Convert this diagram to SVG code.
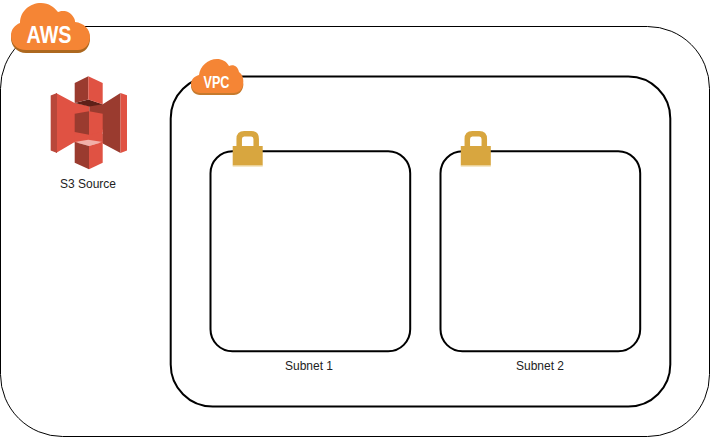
<svg xmlns="http://www.w3.org/2000/svg" width="711" height="437" viewBox="0 0 711 437">
<defs>
<style>
.lbl{font-family:"Liberation Sans",Arial,sans-serif;font-size:12px;fill:#222;text-anchor:middle}
.cl{font-family:"Liberation Sans",Arial,sans-serif;font-weight:700;fill:#fff;text-anchor:middle}
.box2{fill:none;stroke:#000;stroke-width:2}
.body{fill:#D8A63F}
.shk{fill:none;stroke:#D8A63F;stroke-width:5.5}
.red{fill:#E05243}
.dk{fill:#9A3B2F}
</style>
<g id="lock">
<path class="shk" d="M-8.500 -3V-11Q-8.500 -16.250 -3.500 -16.250H3.500Q8.500 -16.250 8.500 -11V-3"/>
<rect class="body" x="-15" y="-4" width="30" height="19.500"/>
<rect x="-15" y="15.500" width="30" height="1" fill="#EBCF8E"/>
</g>
</defs>
<rect width="711" height="437" fill="#fff"/>
<g id="aws-group">
<rect x="0.500" y="26.500" width="709" height="410" rx="62" fill="none" stroke="#000" stroke-width="1"/>
<g id="aws-badge">
<path fill="#AD681F" d="M26 53C17 53 11 46 11 38C11 31 15 27 20 25H80C85 27 90 31 90 39C90 46 85 53 78 53Z"/>
<path fill="#F58535" d="M26 50C17 50 11 44 11 36C11 29 15 25 20 23C20 11 30 3 41 3C49 3 54 7 58 12C62 10 70 10 74 18C75 20 75 21 75 22C84 23 90 29 90 37C90 44 85 50 78 50Z"/>
<text class="cl" x="49" y="42.500" font-size="24" textLength="45" lengthAdjust="spacingAndGlyphs">AWS</text>
</g>
</g>
<g id="s3-source">
<polygon class="red" points="56,93 74.700,103 89.300,106 89.300,134 102.700,134 102.700,143 74.700,142 56,153"/>
<polygon class="red" points="74.700,125 102.700,125 102.700,143 74.700,143"/>
<polygon fill="#B9473A" points="50.700,95.500 57,93 57,153 50.700,150.500"/>
<polygon class="dk" points="89.300,103 102.700,104.300 120.500,93 120.500,153 102.700,143.500 102.700,130 89.300,113"/>
<polygon class="red" points="120.500,93 127,95.300 127,150.500 120.500,153"/>
<polygon class="dk" points="74.700,113.700 89,111.300 89,134.700 74.700,132"/>
<polygon class="red" points="89,111.300 102.700,113.700 102.700,132 89,134.700"/>
<polygon points="74.700,103 88.500,99.500 102.700,104.300 89.300,106.500" fill="#5E2018"/>
<polygon class="dk" points="74.700,83 88.300,76.300 88.300,99.500 74.700,103"/>
<polygon class="red" points="88.300,76.300 102.700,83 102.700,104.300 88.300,99.500"/>
<polygon points="74.700,142 88.300,139.700 102.700,142 89,146" fill="#F2B0A9"/>
<polygon class="dk" points="74.700,142 89,146 89,169.300 74.700,162.700"/>
<polygon class="red" points="89,146 102.700,142 102.700,162.700 89,169.300"/>
<text class="lbl" x="88" y="188">S3 Source</text>
</g>
<g id="vpc-group">
<rect x="170.700" y="76.500" width="499.600" height="330" rx="42" class="box2"/>
<g id="vpc-badge">
<path fill="#C67A2D" d="M200 95C195 95 191 91 191 86C191 83 192 81 195 79H240C243 81 244 84 243 87C242 92 238 95 234 95Z"/>
<path fill="#F58535" d="M200 93C195 93 191 89 191 84C191 79 195 76 199 75C200 66 208 59 217 59C222 59 226 61 229 66C234 64 238 67 239 72C243 75 244 80 243 85C242 90 238 93 234 93Z"/>
<text class="cl" x="216.500" y="87.500" font-size="17" textLength="26" lengthAdjust="spacingAndGlyphs">VPC</text>
</g>
</g>
<g id="subnet-1">
<rect x="210.500" y="151.300" width="199.700" height="200" rx="22" class="box2"/>
<use href="#lock" x="247.700" y="150"/>
<text class="lbl" x="309" y="370">Subnet 1</text>
</g>
<g id="subnet-2">
<rect x="440.500" y="151.300" width="199.700" height="200" rx="22" class="box2"/>
<use href="#lock" x="475.800" y="150"/>
<text class="lbl" x="540" y="370">Subnet 2</text>
</g>
<g id="connectors"/>
</svg>
